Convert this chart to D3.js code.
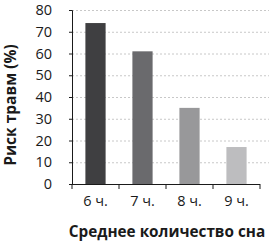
<!DOCTYPE html>
<html>
<head>
<meta charset="utf-8">
<script src="https://cdn.jsdelivr.net/npm/d3@7"></script>
<style>
  body { margin: 0; background: #fff; }
  svg text { font-family: "Open Sans", sans-serif; fill: #1a1a1a; }
</style>
</head>
<body>
<svg id="chart" width="269" height="247"></svg>
<script>
var categories = ["6 ч.", "7 ч.", "8 ч.", "9 ч."];
var values = [74, 61, 35, 17];
var colours = ["#3f3f41", "#6a6a6d", "#98989a", "#bdbdbf"];
var yTicks = [0, 10, 20, 30, 40, 50, 60, 70, 80];

var svg = d3.select("#chart");
var margin = { left: 72, right: 9, top: 10, bottom: 63 };
var width = 269, height = 247;

var x = d3.scaleBand()
  .domain(categories)
  .range([margin.left, width - margin.right])
  .paddingInner(0.57)
  .paddingOuter(0.285);

var y = d3.scaleLinear()
  .domain([0, 80])
  .range([height - margin.bottom, margin.top]);

// dotted grid
svg.append("g")
  .selectAll("line")
  .data(yTicks.slice(1))
  .join("line")
  .attr("x1", margin.left)
  .attr("x2", width)
  .attr("y1", function (d) { return y(d) + 0.5; })
  .attr("y2", function (d) { return y(d) + 0.5; })
  .style("stroke", "#c8c8c8")
  .style("stroke-width", 1)
  .style("stroke-dasharray", "2,2");

// bars
svg.append("g")
  .selectAll("rect")
  .data(values)
  .join("rect")
  .attr("x", function (d, i) { return x(categories[i]); })
  .attr("width", x.bandwidth())
  .attr("y", function (d) { return y(d); })
  .attr("height", function (d) { return y(0) - y(d); })
  .style("fill", function (d, i) { return colours[i]; });

// y axis
var yAxis = svg.append("g")
  .attr("transform", "translate(" + margin.left + ",0)")
  .call(d3.axisLeft(y).tickValues(yTicks).tickSize(3).tickPadding(17));
yAxis.selectAll("text").style("font-size", "14.5px");

// x axis, ticks at band edges
var xAxis = svg.append("g")
  .attr("transform", "translate(0," + y(0) + ")")
  .call(d3.axisBottom(x).tickSize(0).tickPadding(12));
xAxis.select(".domain").remove();
xAxis.selectAll("text").style("font-size", "14.5px");

var edges = categories.map(function (c) {
  return x(c) - x.step() * x.paddingInner() / 2;
});
edges.push(width - margin.right);
svg.append("g")
  .selectAll("line")
  .data(edges)
  .join("line")
  .attr("x1", function (d) { return d; })
  .attr("x2", function (d) { return d; })
  .attr("y1", y(0))
  .attr("y2", y(0) + 5)
  .style("stroke", "#1a1a1a");
svg.append("line")
  .attr("x1", margin.left)
  .attr("x2", width - margin.right)
  .attr("y1", y(0) + 0.5)
  .attr("y2", y(0) + 0.5)
  .style("stroke", "#1a1a1a");

svg.selectAll(".domain").style("stroke", "#1a1a1a");
svg.selectAll(".tick line").style("stroke", "#1a1a1a");

// titles
svg.append("text")
  .attr("x", 167)
  .attr("y", 237)
  .attr("text-anchor", "middle")
  .style("font-size", "15.3px")
  .style("font-weight", "bold")
  .text("Среднее количество сна");

svg.append("text")
  .attr("transform", "translate(16,105) rotate(-90)")
  .attr("text-anchor", "middle")
  .style("font-size", "15.5px")
  .style("font-weight", "bold")
  .text("Риск травм (%)");
</script>
</body>
</html>
